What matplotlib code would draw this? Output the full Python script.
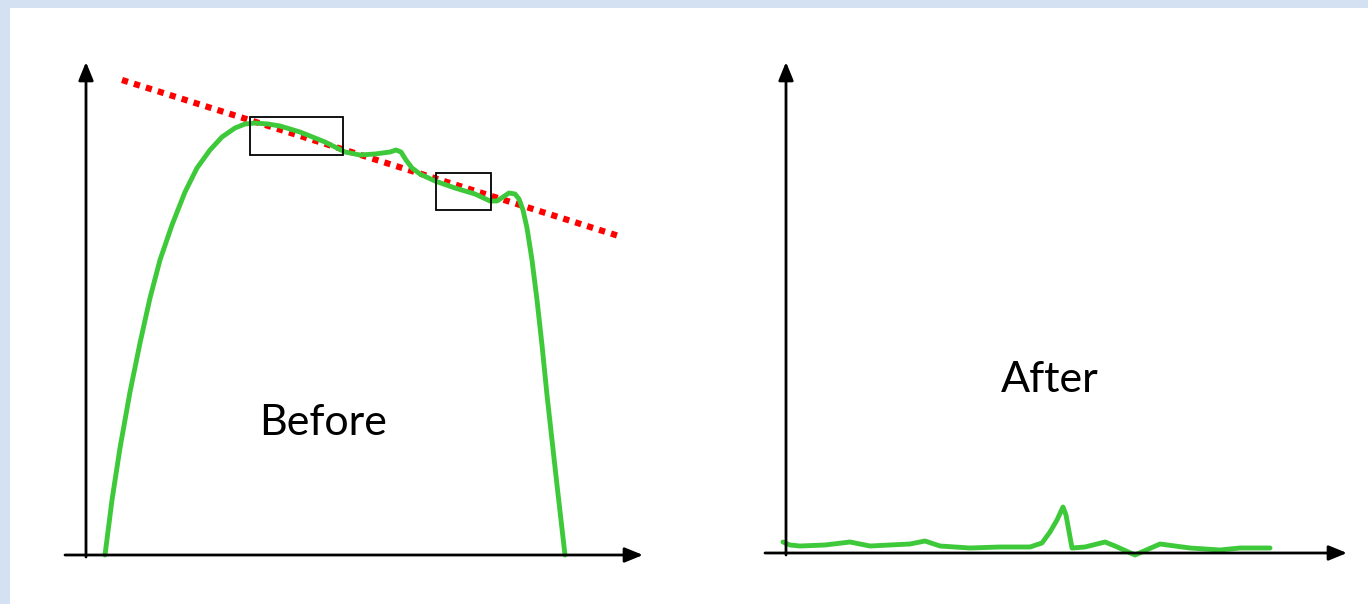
import matplotlib.pyplot as plt
from matplotlib.patches import Rectangle

W, H = 1368, 604

# curves, in picture units (x right, y down)
before_x = [105, 112, 120, 130, 140, 150, 160, 172, 185, 197, 210, 222, 235, 245, 255, 268, 280, 300, 325, 345, 360, 375, 390, 396, 401, 406, 412, 420, 435, 455, 475, 490, 497, 503, 509, 515, 519, 523, 527, 532, 537, 542, 547, 552, 557, 561, 565]
before_y = [555, 500, 448, 392, 343, 298, 260, 225, 192, 168, 150, 137, 128, 124, 123, 124, 126, 132, 142, 152, 155, 154, 152, 150, 152, 160, 168, 174, 181, 188, 194, 201, 201, 197, 193, 194, 199, 210, 228, 260, 300, 345, 395, 440, 485, 520, 555]
trend_x = [122, 622]
trend_y = [80, 237]
boxes = [(250, 117, 93, 38), (436, 173, 55, 37)]

after_x = [783, 790, 800, 825, 850, 870, 890, 910, 925, 940, 970, 1000, 1030, 1042, 1050, 1057, 1063, 1066, 1072, 1085, 1105, 1115, 1135, 1160, 1190, 1220, 1240, 1270]
after_y = [542, 545, 546, 545, 542, 546, 545, 544, 541, 546, 548, 547, 547, 543, 532, 520, 507, 515, 548, 547, 542, 546, 555, 544, 548, 550, 548, 548]

fig = plt.figure(figsize=(W / 100, H / 100), dpi=100)
fig.patch.set_facecolor('#d3e1f3')
ax = fig.add_axes([10 / W, 0, 1 - 10 / W, 1 - 8 / H])
ax.set_xlim(10, W)
ax.set_ylim(H, 8)
ax.set_facecolor('white')
ax.axis('off')
ax.add_patch(Rectangle((10, 8), W, H, color='white', zorder=0))

def arrows(x0, y0, x1, y1, ox):
    kw = dict(arrowstyle='-|>,head_width=0.45,head_length=1.1', color='black', lw=2, shrinkA=0, shrinkB=0)
    ax.annotate('', xy=(x1, y0), xytext=(x0, y0), arrowprops=kw)
    ax.annotate('', xy=(ox, y1), xytext=(ox, y0 + 2), arrowprops=kw)

arrows(65, 555, 643, 62, 86)
arrows(765, 553, 1347, 62, 786)

ax.plot(trend_x, trend_y, color='red', lw=4.5, ls=(0, (1, 1)))
ax.plot(before_x, before_y, color='#3ec93a', lw=3.5, solid_capstyle='round', solid_joinstyle='round')
for bx, by, bw, bh in boxes:
    ax.add_patch(Rectangle((bx, by), bw, bh, fill=False, ec='black', lw=1.3, zorder=3))
ax.plot(after_x, after_y, color='#3ec93a', lw=3.5, solid_capstyle='round', solid_joinstyle='round')

ax.text(323, 423, 'Before', fontsize=31, ha='center', va='center', family='Lato')
ax.text(1050, 380, 'After', fontsize=31, ha='center', va='center', family='Lato')

fig.savefig('out.png', dpi=100, facecolor=fig.get_facecolor())
